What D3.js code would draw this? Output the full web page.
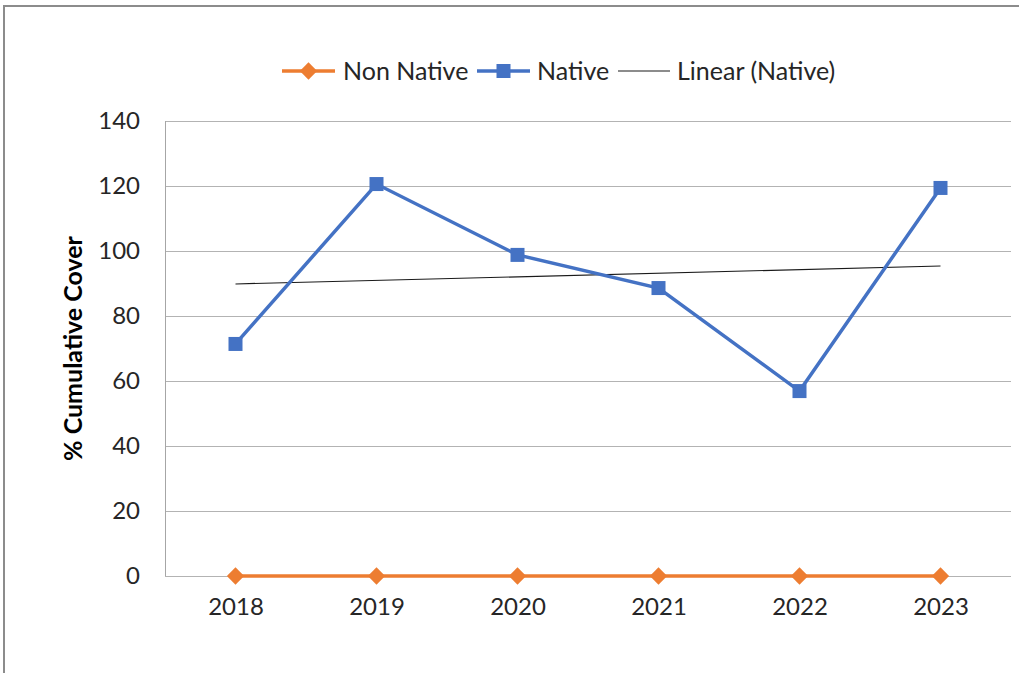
<!DOCTYPE html>
<html>
<head>
<meta charset="utf-8">
<script src="https://cdn.jsdelivr.net/npm/d3@7"></script>
<style>
  body { margin: 0; background: #fff; }
  svg { display: block; font-family: Lato, "Open Sans", sans-serif; }
</style>
</head>
<body>
<svg class="mainSvg" width="1019" height="673"></svg>
<script>
// chart data
var years = ["2018", "2019", "2020", "2021", "2022", "2023"];
var nonNative = [0, 0, 0, 0, 0, 0];
var native = [71.4, 120.6, 98.8, 88.6, 56.9, 119.4];
var yTicks = [0, 20, 40, 60, 80, 100, 120, 140];

var svg = d3.select(".mainSvg");

// outer chart border (only top + left visible in the shot)
svg.append("rect")
  .attr("x", 4).attr("y", 6)
  .attr("width", 1100).attr("height", 800)
  .attr("fill", "none")
  .attr("stroke", "#8c8c8c")
  .attr("stroke-width", 2);

var plotL = 165, plotR = 1011, plotT = 121, plotB = 576;

var x = d3.scalePoint().domain(years).range([plotL, plotR]).padding(0.5);
var y = d3.scaleLinear().domain([0, 140]).range([plotB, plotT]);

// gridlines
svg.append("g").selectAll("line").data(yTicks).enter().append("line")
  .attr("x1", plotL).attr("x2", plotR)
  .attr("y1", function(d){ return y(d) + 0.5; })
  .attr("y2", function(d){ return y(d) + 0.5; })
  .attr("stroke", "#b3b3b3")
  .attr("stroke-width", 1);

// left axis line
svg.append("line")
  .attr("x1", plotL + 0.5).attr("x2", plotL + 0.5)
  .attr("y1", plotT).attr("y2", plotB)
  .attr("stroke", "#a6a6a6");

// y labels
var yAxis = d3.axisLeft(y).tickValues(yTicks).tickSize(0).tickPadding(25);
var gy = svg.append("g").attr("transform", "translate(" + plotL + ",0)").call(yAxis);
gy.select(".domain").remove();
gy.selectAll("text").attr("font-size", 24).attr("fill", "#262626")
  .attr("font-family", "Lato, sans-serif");

// x labels
var xAxis = d3.axisBottom(x).tickSize(0).tickPadding(22);
var gx = svg.append("g").attr("transform", "translate(0," + plotB + ")").call(xAxis);
gx.select(".domain").remove();
gx.selectAll("text").attr("font-size", 24).attr("fill", "#262626")
  .attr("font-family", "Lato, sans-serif");

// y title
svg.append("text")
  .attr("transform", "translate(82," + ((plotT + plotB) / 2) + ") rotate(-90)")
  .attr("text-anchor", "middle")
  .attr("font-size", 25)
  .attr("font-weight", "bold")
  .attr("fill", "#000")
  .text("% Cumulative Cover");

// trendline (least squares on Native)
var n = native.length;
var mx = (n - 1) / 2, my = d3.mean(native);
var sxy = 0, sxx = 0;
native.forEach(function(v, i){ sxy += (i - mx) * (v - my); sxx += (i - mx) * (i - mx); });
var slope = sxy / sxx, icpt = my - slope * mx;
svg.append("line")
  .attr("x1", x(years[0])).attr("y1", y(icpt))
  .attr("x2", x(years[n - 1])).attr("y2", y(icpt + slope * (n - 1)))
  .attr("stroke", "#1a1a1a")
  .attr("stroke-width", 1.2);

var line = d3.line()
  .x(function(d, i){ return x(years[i]); })
  .y(function(d){ return y(d); });

// non native
svg.append("path").datum(nonNative)
  .attr("d", line).attr("fill", "none")
  .attr("stroke", "#ED7D31").attr("stroke-width", 3.5);
svg.append("g").selectAll("path").data(nonNative).enter().append("path")
  .attr("d", d3.symbol().type(d3.symbolDiamond2).size(190))
  .attr("transform", function(d, i){ return "translate(" + x(years[i]) + "," + y(d) + ")"; })
  .attr("fill", "#ED7D31");

// native
svg.append("path").datum(native)
  .attr("d", line).attr("fill", "none")
  .attr("stroke", "#4472C4").attr("stroke-width", 3.5);
svg.append("g").selectAll("rect").data(native).enter().append("rect")
  .attr("x", function(d, i){ return x(years[i]) - 7; })
  .attr("y", function(d){ return y(d) - 7; })
  .attr("width", 14).attr("height", 14)
  .attr("fill", "#4472C4");

// legend
var ly = 71;
var lg = svg.append("g").attr("font-size", 25).attr("fill", "#262626");
lg.append("line").attr("x1", 282).attr("x2", 335).attr("y1", ly).attr("y2", ly)
  .attr("stroke", "#ED7D31").attr("stroke-width", 3.5);
lg.append("path").attr("d", d3.symbol().type(d3.symbolDiamond2).size(190))
  .attr("transform", "translate(308.5," + ly + ")").attr("fill", "#ED7D31");
lg.append("text").attr("x", 343).attr("y", ly).attr("dy", "0.35em").text("Non Native");

lg.append("line").attr("x1", 477).attr("x2", 530).attr("y1", ly).attr("y2", ly)
  .attr("stroke", "#4472C4").attr("stroke-width", 3.5);
lg.append("rect").attr("x", 496.5).attr("y", ly - 7).attr("width", 14).attr("height", 14)
  .attr("fill", "#4472C4");
lg.append("text").attr("x", 537).attr("y", ly).attr("dy", "0.35em").text("Native");

lg.append("line").attr("x1", 618).attr("x2", 670).attr("y1", ly).attr("y2", ly)
  .attr("stroke", "#1a1a1a").attr("stroke-width", 1.2);
lg.append("text").attr("x", 677).attr("y", ly).attr("dy", "0.35em").text("Linear (Native)");
</script>
</body>
</html>
